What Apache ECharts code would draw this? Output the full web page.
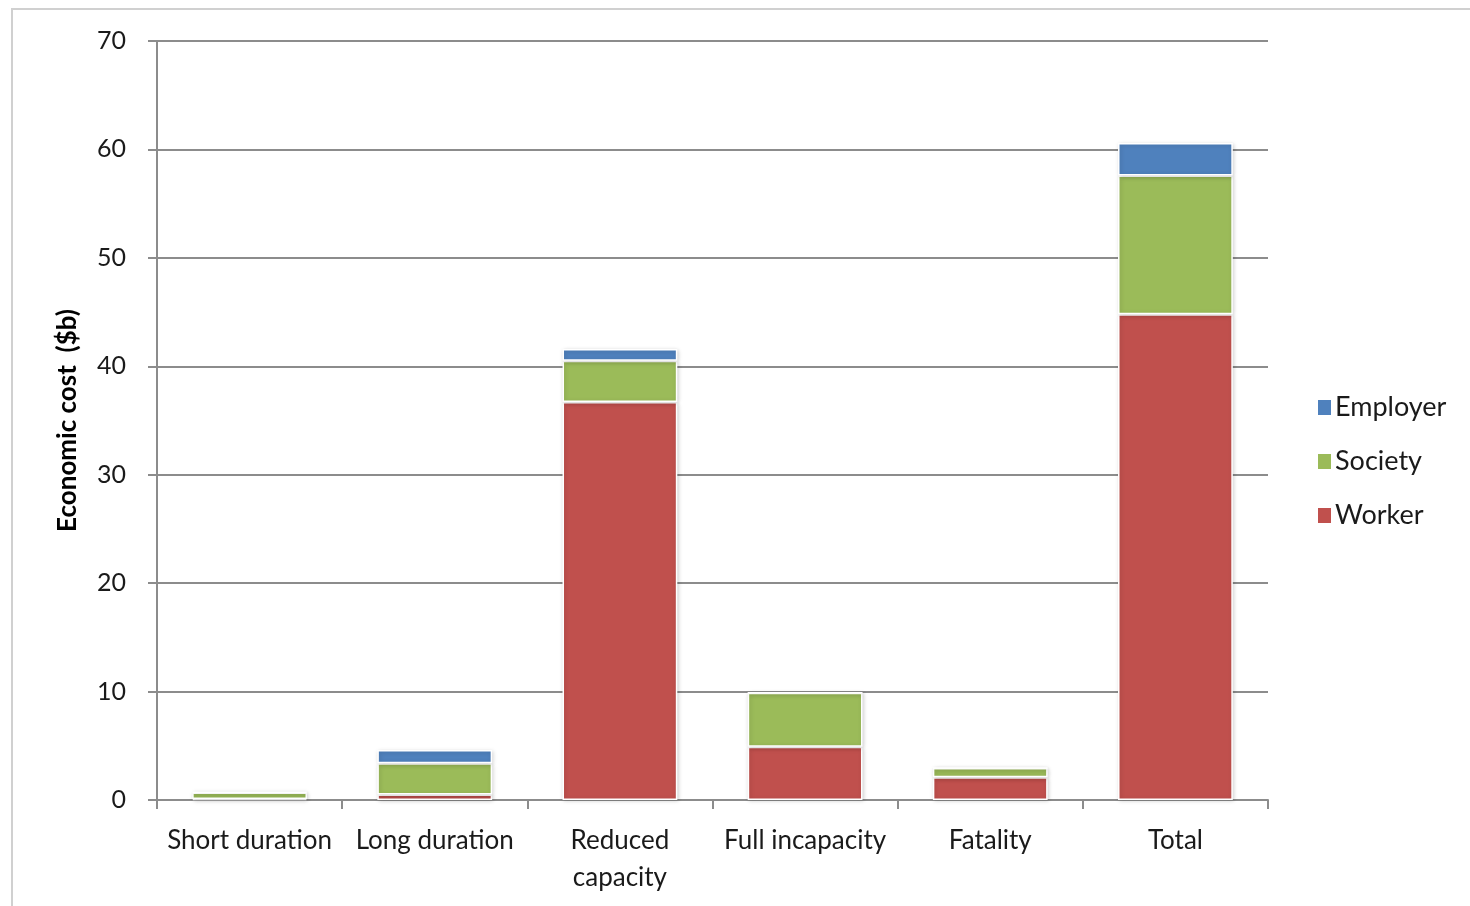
<!DOCTYPE html>
<html><head><meta charset="utf-8">
<script src="https://cdn.jsdelivr.net/npm/echarts@6/dist/echarts.min.js"></script>
<style>
html,body{margin:0;padding:0;background:#fff;}
#frame{position:absolute;left:11px;top:8px;width:1470px;height:920px;border:2px solid #d0d0d0;box-sizing:border-box;}
#c{position:absolute;left:0;top:0;width:1470px;height:906px;}
</style></head>
<body><div id="frame"></div><div id="c"></div>
<script>
const categories = ['Short duration','Long duration','Reduced\ncapacity','Full incapacity','Fatality','Total'];
const worker   = [0.1, 0.5, 36.7, 4.9, 2.1, 44.8];
const society  = [0.6, 2.9, 3.8, 5.0, 0.85, 12.8];
const employer = [0.05, 1.2, 1.1, 0, 0, 3.0];
const yTicks = {min:0, max:70, interval:10};

const font = 'Lato, "Open Sans", sans-serif';
const chart = echarts.init(document.getElementById('c'));
const barStyle = c => ({color:c, borderColor:'#ffffff', borderWidth:1.5, shadowColor:'rgba(0,0,0,0.18)', shadowBlur:4, shadowOffsetX:1, shadowOffsetY:1});
chart.setOption({
  animation:false,
  grid:{left:157, right:202, top:41, bottom:106, containLabel:false},
  legend:{
    orient:'vertical', left:1311, top:389, itemWidth:15, itemHeight:17, itemGap:27,
    icon:'rect',
    data:['Employer','Society','Worker'],
    textStyle:{fontFamily:font, fontSize:27, color:'#1a1a1a', padding:[0,0,0,-2]}
  },
  xAxis:{
    type:'category', data:categories,
    axisLine:{lineStyle:{color:'#8c8c8c', width:2}},
    axisTick:{show:true, length:9, lineStyle:{color:'#8c8c8c', width:2}},
    axisLabel:{fontFamily:font, fontSize:26, color:'#1a1a1a', margin:22, lineHeight:37, interval:0}
  },
  yAxis:{
    type:'value', min:yTicks.min, max:yTicks.max, interval:yTicks.interval,
    name:'Economic cost  ($b)', nameLocation:'middle', nameGap:76, nameRotate:90,
    nameTextStyle:{fontFamily:font, fontSize:26, fontWeight:'bold', color:'#000'},
    axisLine:{show:true, lineStyle:{color:'#8c8c8c', width:2}},
    axisTick:{show:true, length:9, lineStyle:{color:'#8c8c8c', width:2}},
    splitLine:{lineStyle:{color:'#8c8c8c', width:2}},
    axisLabel:{fontFamily:font, fontSize:25, color:'#1a1a1a', margin:31}
  },
  series:[
    {name:'Worker', type:'bar', stack:'a', data:worker, barWidth:'62%', itemStyle:barStyle('#c0504d')},
    {name:'Society', type:'bar', stack:'a', data:society, itemStyle:barStyle('#9bbb59')},
    {name:'Employer', type:'bar', stack:'a', data:employer, itemStyle:barStyle('#4f81bd')}
  ]
});
</script></body></html>
